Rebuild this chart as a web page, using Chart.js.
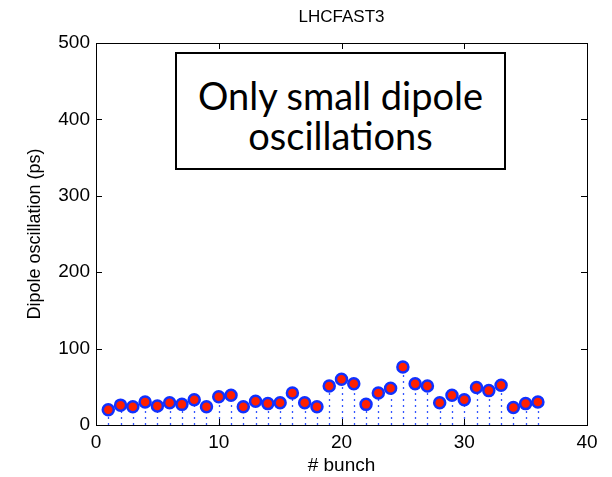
<!DOCTYPE html>
<html>
<head>
<meta charset="utf-8">
<script src="https://cdn.jsdelivr.net/npm/chart.js@4.4.1/dist/chart.umd.min.js"></script>
<style>
  html, body { margin: 0; padding: 0; background: #fff; }
  #wrap { position: relative; width: 612px; height: 477px; }
  #note {
    position: absolute; left: 175px; top: 52px; width: 327px; height: 93px;
    border: 2px solid #000; background: #fff;
    font-family: Lato, "Open Sans", sans-serif; font-size: 38px; line-height: 40px;
    text-align: center; padding-top: 21px; color: #000;
  }
</style>
</head>
<body>
<div id="wrap">
  <canvas id="chart" width="612" height="477"></canvas>
  <div id="note">Only small dipole<br>oscillations</div>
</div>
<script>
/* ── Data ── */
const BUNCHES = [1,2,3,4,5,6,7,8,9,10,11,12,13,14,15,16,17,18,19,20,21,22,23,24,25,26,27,28,29,30,31,32,33,34,35,36];
const OSC_PS  = [20,26,24,30,25,29,27,33,24,37,39,24,31,28,29,42,29,24,51,60,54,27,42,48,76,54,51,29,39,33,49,45,52,23,28,30];
const X_TICKS = [0,10,20,30,40];
const Y_TICKS = [0,100,200,300,400,500];

const FONT = 'Liberation Sans, Arial, sans-serif';

/* ── Plugins ── */
// dotted stems from each point down to zero
const stems = {
  id: 'stems',
  beforeDatasetsDraw(chart) {
    const { ctx, scales: { x, y } } = chart;
    ctx.save();
    ctx.strokeStyle = '#3355ff';
    ctx.lineWidth = 1.3;
    ctx.setLineDash([2, 4]);
    BUNCHES.forEach((b, i) => {
      const px = Math.round(x.getPixelForValue(b)) + 0.5;
      ctx.beginPath();
      ctx.moveTo(px, y.getPixelForValue(0));
      ctx.lineTo(px, y.getPixelForValue(OSC_PS[i]));
      ctx.stroke();
    });
    ctx.restore();
  },
};

// matlab style box with inward ticks, plus title
const frame = {
  id: 'frame',
  afterDraw(chart) {
    const { ctx, chartArea: a, scales: { x, y } } = chart;
    ctx.save();
    ctx.strokeStyle = '#000';
    ctx.lineWidth = 1;
    ctx.strokeRect(a.left + 0.5, a.top + 0.5, a.right - a.left, a.bottom - a.top);
    ctx.beginPath();
    X_TICKS.forEach(v => {
      const px = Math.round(x.getPixelForValue(v)) + 0.5;
      ctx.moveTo(px, a.bottom); ctx.lineTo(px, a.bottom - 6);
      ctx.moveTo(px, a.top);    ctx.lineTo(px, a.top + 6);
    });
    Y_TICKS.forEach(v => {
      const py = Math.round(y.getPixelForValue(v)) + 0.5;
      ctx.moveTo(a.left, py);  ctx.lineTo(a.left + 6, py);
      ctx.moveTo(a.right, py); ctx.lineTo(a.right - 6, py);
    });
    ctx.stroke();
    ctx.fillStyle = '#000';
    ctx.font = '17px ' + FONT;
    ctx.textAlign = 'center';
    ctx.textBaseline = 'middle';
    ctx.fillText('LHCFAST3', (a.left + a.right) / 2, 17);
    ctx.restore();
  },
};

/* ── Chart ── */
new Chart(document.getElementById('chart'), {
  type: 'scatter',
  data: {
    datasets: [{
      data: BUNCHES.map((b, i) => ({ x: b, y: OSC_PS[i] })),
      backgroundColor: '#ff2000',
      borderColor: '#1030ff',
      borderWidth: 2.5,
      pointRadius: 5.5,
    }],
  },
  options: {
    responsive: false,
    animation: false,
    layout: { padding: { left: 0, right: 25, top: 43, bottom: 0 } },
    plugins: { legend: { display: false }, tooltip: { enabled: false } },
    scales: {
      x: {
        min: 0, max: 40,
        afterFit: s => { s.height = 52; },
        afterBuildTicks: s => { s.ticks = X_TICKS.map(v => ({ value: v })); },
        grid: { display: false, drawTicks: false },
        border: { display: false },
        ticks: { color: '#000', font: { family: FONT, size: 19 }, padding: 6, maxRotation: 0 },
        title: { display: true, text: '# bunch', color: '#000', font: { family: FONT, size: 19 }, padding: { top: 0, bottom: 0 } },
      },
      y: {
        min: 0, max: 500,
        afterFit: s => { s.width = 96; },
        afterBuildTicks: s => { s.ticks = Y_TICKS.map(v => ({ value: v })); },
        grid: { display: false, drawTicks: false },
        border: { display: false },
        ticks: { color: '#000', font: { family: FONT, size: 19 }, padding: 6 },
        title: { display: true, text: 'Dipole oscillation (ps)', color: '#000', font: { family: FONT, size: 18 }, padding: { top: 24, bottom: 0 } },
      },
    },
  },
  plugins: [stems, frame],
});
</script>
</body>
</html>
